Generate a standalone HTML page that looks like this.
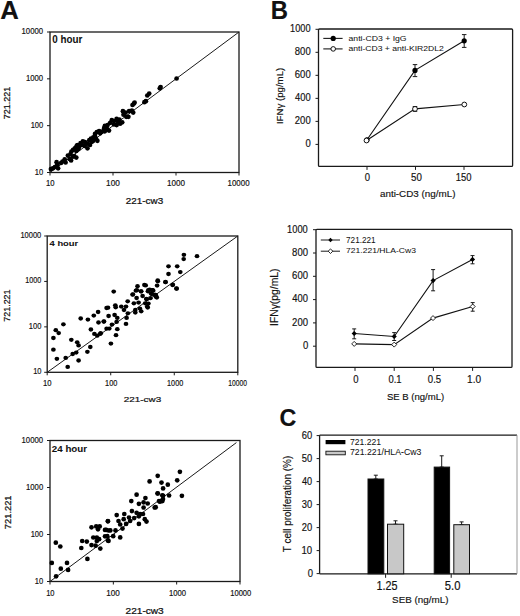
<!DOCTYPE html><html><head><meta charset="utf-8"><title>Figure</title><style>html,body{margin:0;padding:0;background:#fff;}svg{display:block;}text{font-family:"Liberation Sans",sans-serif;fill:#111;}</style></head><body>
<svg width="520" height="616" viewBox="0 0 520 616">
<rect width="520" height="616" fill="#fff"/>
<g stroke="#111" stroke-width="0.16">
<text x="0" y="0" font-size="24" font-weight="bold" stroke-width="0.15" transform="translate(0.35,18.50) scale(1.0719,1.0515) rotate(0)">A</text>
<text x="0" y="0" font-size="24" font-weight="bold" stroke-width="0.15" transform="translate(270.71,18.60) scale(0.9932,1.0545) rotate(0)">B</text>
<text x="0" y="0" font-size="24" font-weight="bold" stroke-width="0.15" transform="translate(279.48,425.75) scale(0.9710,1.0118) rotate(0)">C</text>
<text x="0" y="0" font-size="8" font-weight="normal" transform="translate(34.82,174.55) scale(0.9500,1.0273) rotate(0)">10</text>
<text x="0" y="0" font-size="8" font-weight="normal" transform="translate(30.63,127.72) scale(0.9440,1.0273) rotate(0)">100</text>
<text x="0" y="0" font-size="8" font-weight="normal" transform="translate(25.91,80.88) scale(0.9706,1.0273) rotate(0)">1000</text>
<text x="0" y="0" font-size="8" font-weight="normal" transform="translate(21.51,34.05) scale(0.9721,1.0273) rotate(0)">10000</text>
<text x="0" y="0" font-size="8" font-weight="normal" transform="translate(46.02,186.35) scale(0.9625,1.1182) rotate(0)">10</text>
<text x="0" y="0" font-size="8" font-weight="normal" transform="translate(106.08,186.35) scale(1.0320,1.1182) rotate(0)">100</text>
<text x="0" y="0" font-size="8" font-weight="normal" transform="translate(167.09,186.35) scale(1.0118,1.1182) rotate(0)">1000</text>
<text x="0" y="0" font-size="8" font-weight="normal" transform="translate(227.61,186.35) scale(0.9860,1.1182) rotate(0)">10000</text>
<text x="0" y="0" font-size="10" font-weight="bold" stroke-width="0.05" transform="translate(52.21,43.30) scale(0.9833,1.0286) rotate(0)">0 hour</text>
<text x="0" y="0" font-size="10" font-weight="normal" stroke-width="0.26" transform="translate(125.81,204.10) scale(0.9892,0.9000) rotate(0)">221-cw3</text>
<text x="0" y="0" font-size="10" font-weight="normal" stroke-width="0.26" transform="translate(10.30,119.35) scale(0.9429,0.9021) rotate(-90)">721.221</text>
<text x="0" y="0" font-size="8" font-weight="normal" transform="translate(33.13,374.35) scale(0.9375,1.0273) rotate(0)">10</text>
<text x="0" y="0" font-size="8" font-weight="normal" transform="translate(28.83,328.92) scale(0.9440,1.0273) rotate(0)">100</text>
<text x="0" y="0" font-size="8" font-weight="normal" transform="translate(25.35,283.48) scale(0.9000,1.0273) rotate(0)">1000</text>
<text x="0" y="0" font-size="8" font-weight="normal" transform="translate(20.43,238.05) scale(0.9395,1.0273) rotate(0)">10000</text>
<text x="0" y="0" font-size="8" font-weight="normal" transform="translate(42.92,386.35) scale(0.9625,1.1182) rotate(0)">10</text>
<text x="0" y="0" font-size="8" font-weight="normal" transform="translate(105.04,386.35) scale(0.9200,1.1182) rotate(0)">100</text>
<text x="0" y="0" font-size="8" font-weight="normal" transform="translate(167.10,386.35) scale(0.9059,1.1182) rotate(0)">1000</text>
<text x="0" y="0" font-size="8" font-weight="normal" transform="translate(228.28,386.35) scale(0.8419,1.1182) rotate(0)">10000</text>
<text x="0" y="0" font-size="10" font-weight="bold" stroke-width="0.05" transform="translate(49.57,245.50) scale(0.9388,0.7571) rotate(0)">4 hour</text>
<text x="0" y="0" font-size="10" font-weight="normal" stroke-width="0.26" transform="translate(123.81,402.30) scale(0.9892,0.8000) rotate(0)">221-cw3</text>
<text x="0" y="0" font-size="10" font-weight="normal" stroke-width="0.26" transform="translate(10.30,321.65) scale(0.8429,0.8908) rotate(-90)">721.221</text>
<text x="0" y="0" font-size="8" font-weight="normal" transform="translate(34.82,583.55) scale(0.9500,1.0273) rotate(0)">10</text>
<text x="0" y="0" font-size="8" font-weight="normal" transform="translate(30.63,536.55) scale(0.9440,1.0273) rotate(0)">100</text>
<text x="0" y="0" font-size="8" font-weight="normal" transform="translate(26.02,489.55) scale(0.9647,1.0273) rotate(0)">1000</text>
<text x="0" y="0" font-size="8" font-weight="normal" transform="translate(21.51,442.55) scale(0.9721,1.0273) rotate(0)">10000</text>
<text x="0" y="0" font-size="8" font-weight="normal" transform="translate(46.13,595.65) scale(0.9375,1.1182) rotate(0)">10</text>
<text x="0" y="0" font-size="8" font-weight="normal" transform="translate(106.29,595.65) scale(1.0160,1.1182) rotate(0)">100</text>
<text x="0" y="0" font-size="8" font-weight="normal" transform="translate(168.92,595.65) scale(0.9588,1.1182) rotate(0)">1000</text>
<text x="0" y="0" font-size="8" font-weight="normal" transform="translate(230.23,595.65) scale(0.9488,1.1182) rotate(0)">10000</text>
<text x="0" y="0" font-size="10" font-weight="bold" stroke-width="0.05" transform="translate(51.86,452.40) scale(0.9762,0.9429) rotate(0)">24 hour</text>
<text x="0" y="0" font-size="10" font-weight="normal" stroke-width="0.26" transform="translate(125.54,613.60) scale(1.0122,0.9143) rotate(0)">221-cw3</text>
<text x="0" y="0" font-size="10" font-weight="normal" stroke-width="0.26" transform="translate(10.50,529.17) scale(0.9571,0.9333) rotate(-90)">721.221</text>
<text x="0" y="0" font-size="10" font-weight="normal" transform="translate(305.57,147.45) scale(0.9500,1.0143) rotate(0)">0</text>
<text x="0" y="0" font-size="10" font-weight="normal" transform="translate(294.82,124.43) scale(0.9524,1.0143) rotate(0)">200</text>
<text x="0" y="0" font-size="10" font-weight="normal" transform="translate(295.07,101.41) scale(0.9375,1.0143) rotate(0)">400</text>
<text x="0" y="0" font-size="10" font-weight="normal" transform="translate(294.82,78.39) scale(0.9524,1.0143) rotate(0)">600</text>
<text x="0" y="0" font-size="10" font-weight="normal" transform="translate(294.82,55.37) scale(0.9524,1.0143) rotate(0)">800</text>
<text x="0" y="0" font-size="10" font-weight="normal" transform="translate(290.01,32.35) scale(0.9224,1.0143) rotate(0)">1000</text>
<text x="0" y="0" font-size="10" font-weight="normal" transform="translate(364.67,181.45) scale(0.9500,1.0929) rotate(0)">0</text>
<text x="0" y="0" font-size="10" font-weight="normal" transform="translate(411.01,181.45) scale(0.9756,1.0929) rotate(0)">50</text>
<text x="0" y="0" font-size="10" font-weight="normal" transform="translate(455.84,181.45) scale(0.9452,1.0929) rotate(0)">150</text>
<text x="0" y="0" font-size="10" font-weight="normal" transform="translate(379.96,197.10) scale(0.9861,0.8571) rotate(0)">anti-CD3 (ng/mL)</text>
<text x="0" y="0" font-size="10" font-weight="normal" transform="translate(282.60,124.07) scale(0.9857,0.9656) rotate(-90)">IFNγ (pg/mL)</text>
<text x="0" y="0" font-size="8.5" font-weight="normal" stroke-width="0.04" transform="translate(348.54,41.10) scale(1.0205,0.8833) rotate(0)">anti-CD3 + IgG</text>
<text x="0" y="0" font-size="8.5" font-weight="normal" stroke-width="0.04" transform="translate(348.55,51.45) scale(1.0139,0.9000) rotate(0)">anti-CD3 + anti-KIR2DL2</text>
<text x="0" y="0" font-size="10" font-weight="normal" transform="translate(302.97,349.00) scale(0.9500,1.0286) rotate(0)">0</text>
<text x="0" y="0" font-size="10" font-weight="normal" transform="translate(292.12,325.70) scale(0.9524,1.0286) rotate(0)">200</text>
<text x="0" y="0" font-size="10" font-weight="normal" transform="translate(292.37,302.40) scale(0.9375,1.0286) rotate(0)">400</text>
<text x="0" y="0" font-size="10" font-weight="normal" transform="translate(292.12,279.10) scale(0.9524,1.0286) rotate(0)">600</text>
<text x="0" y="0" font-size="10" font-weight="normal" transform="translate(292.12,255.80) scale(0.9524,1.0286) rotate(0)">800</text>
<text x="0" y="0" font-size="10" font-weight="normal" transform="translate(287.10,232.50) scale(0.9318,1.0286) rotate(0)">1000</text>
<text x="0" y="0" font-size="10" font-weight="normal" transform="translate(353.17,382.50) scale(0.9500,1.0000) rotate(0)">0</text>
<text x="0" y="0" font-size="10" font-weight="normal" transform="translate(388.43,382.50) scale(0.9462,1.0000) rotate(0)">0.1</text>
<text x="0" y="0" font-size="10" font-weight="normal" transform="translate(427.82,382.50) scale(0.9615,1.0000) rotate(0)">0.5</text>
<text x="0" y="0" font-size="10" font-weight="normal" transform="translate(467.04,382.50) scale(1.0118,1.0000) rotate(0)">1.0</text>
<text x="0" y="0" font-size="10" font-weight="normal" transform="translate(386.92,400.00) scale(0.9559,0.9571) rotate(0)">SE B (ng/mL)</text>
<text x="0" y="0" font-size="10" font-weight="normal" transform="translate(278.10,325.93) scale(1.0000,1.0333) rotate(-90)">IFNγ(pg/mL)</text>
<text x="0" y="0" font-size="8.5" font-weight="normal" stroke-width="0.04" transform="translate(346.02,243.30) scale(0.9647,0.9833) rotate(0)">721.221</text>
<text x="0" y="0" font-size="8.5" font-weight="normal" stroke-width="0.04" transform="translate(346.00,252.90) scale(1.0073,0.9167) rotate(0)">721.221/HLA-Cw3</text>
<text x="0" y="0" font-size="10" font-weight="normal" transform="translate(307.72,576.90) scale(0.9500,1.0000) rotate(0)">0</text>
<text x="0" y="0" font-size="10" font-weight="normal" transform="translate(301.48,553.90) scale(0.9600,1.0000) rotate(0)">10</text>
<text x="0" y="0" font-size="10" font-weight="normal" transform="translate(301.73,530.90) scale(0.9366,1.0000) rotate(0)">20</text>
<text x="0" y="0" font-size="10" font-weight="normal" transform="translate(301.73,507.90) scale(0.9366,1.0000) rotate(0)">30</text>
<text x="0" y="0" font-size="10" font-weight="normal" transform="translate(301.97,484.90) scale(0.9143,1.0000) rotate(0)">40</text>
<text x="0" y="0" font-size="10" font-weight="normal" transform="translate(301.73,461.90) scale(0.9366,1.0000) rotate(0)">50</text>
<text x="0" y="0" font-size="10" font-weight="normal" transform="translate(301.73,438.90) scale(0.9366,1.0000) rotate(0)">60</text>
<text x="0" y="0" font-size="11" font-weight="normal" transform="translate(376.46,590.20) scale(0.9827,1.0800) rotate(0)">1.25</text>
<text x="0" y="0" font-size="11" font-weight="normal" transform="translate(444.79,590.20) scale(1.0207,1.0800) rotate(0)">5.0</text>
<text x="0" y="0" font-size="10" font-weight="normal" transform="translate(392.11,603.40) scale(0.9849,0.8857) rotate(0)">SEB (ng/mL)</text>
<text x="0" y="0" font-size="10" font-weight="normal" transform="translate(290.60,552.15) scale(1.0571,0.9932) rotate(-90)">T cell proliferation (%)</text>
<text x="0" y="0" font-size="8.5" font-weight="normal" stroke-width="0.04" transform="translate(349.99,444.50) scale(1.0151,1.0000) rotate(0)">721.221</text>
<text x="0" y="0" font-size="8.5" font-weight="normal" stroke-width="0.04" transform="translate(349.99,455.20) scale(1.0277,1.0500) rotate(0)">721.221/HLA-Cw3</text>
</g>
<rect x="50" y="32" width="189" height="140.5" fill="none" stroke="#1a1a1a" stroke-width="1.3"/>
<line x1="50.00" y1="172.50" x2="239.00" y2="32.00" stroke="#1a1a1a" stroke-width="1.0"/>
<line x1="47.00" y1="172.50" x2="50.00" y2="172.50" stroke="#1a1a1a" stroke-width="1.0"/>
<line x1="50.00" y1="172.50" x2="50.00" y2="175.50" stroke="#1a1a1a" stroke-width="1.0"/>
<line x1="47.00" y1="125.67" x2="50.00" y2="125.67" stroke="#1a1a1a" stroke-width="1.0"/>
<line x1="113.00" y1="172.50" x2="113.00" y2="175.50" stroke="#1a1a1a" stroke-width="1.0"/>
<line x1="47.00" y1="78.83" x2="50.00" y2="78.83" stroke="#1a1a1a" stroke-width="1.0"/>
<line x1="176.00" y1="172.50" x2="176.00" y2="175.50" stroke="#1a1a1a" stroke-width="1.0"/>
<line x1="47.00" y1="32.00" x2="50.00" y2="32.00" stroke="#1a1a1a" stroke-width="1.0"/>
<line x1="239.00" y1="172.50" x2="239.00" y2="175.50" stroke="#1a1a1a" stroke-width="1.0"/>
<g fill="#000">
<ellipse cx="50.9" cy="169.1" rx="2.35" ry="2.35"/>
<ellipse cx="52.9" cy="168.3" rx="2.35" ry="2.35"/>
<ellipse cx="54.9" cy="167.1" rx="2.35" ry="2.35"/>
<ellipse cx="56.6" cy="162.2" rx="2.35" ry="2.35"/>
<ellipse cx="57.2" cy="164.8" rx="2.35" ry="2.35"/>
<ellipse cx="58.1" cy="168.3" rx="2.35" ry="2.35"/>
<ellipse cx="64.7" cy="159.3" rx="2.35" ry="2.35"/>
<ellipse cx="65.6" cy="162.5" rx="2.35" ry="2.35"/>
<ellipse cx="67.9" cy="155.6" rx="2.35" ry="2.35"/>
<ellipse cx="70.5" cy="154.1" rx="2.35" ry="2.35"/>
<ellipse cx="69.6" cy="159.0" rx="2.35" ry="2.35"/>
<ellipse cx="71.1" cy="160.5" rx="2.35" ry="2.35"/>
<ellipse cx="72.8" cy="156.7" rx="2.35" ry="2.35"/>
<ellipse cx="74.2" cy="156.2" rx="2.35" ry="2.35"/>
<ellipse cx="76.3" cy="157.6" rx="2.35" ry="2.35"/>
<ellipse cx="71.4" cy="151.5" rx="2.35" ry="2.35"/>
<ellipse cx="73.1" cy="149.8" rx="2.35" ry="2.35"/>
<ellipse cx="74.8" cy="148.4" rx="2.35" ry="2.35"/>
<ellipse cx="76.5" cy="146.3" rx="2.35" ry="2.35"/>
<ellipse cx="77.7" cy="145.2" rx="2.35" ry="2.35"/>
<ellipse cx="76.3" cy="151.0" rx="2.35" ry="2.35"/>
<ellipse cx="78.3" cy="149.2" rx="2.35" ry="2.35"/>
<ellipse cx="79.1" cy="146.9" rx="2.35" ry="2.35"/>
<ellipse cx="61.0" cy="163.0" rx="2.35" ry="2.35"/>
<ellipse cx="62.5" cy="161.5" rx="2.35" ry="2.35"/>
<ellipse cx="77.2" cy="145.4" rx="2.35" ry="2.35"/>
<ellipse cx="80.6" cy="143.1" rx="2.35" ry="2.35"/>
<ellipse cx="82.9" cy="141.4" rx="2.35" ry="2.35"/>
<ellipse cx="84.7" cy="146.0" rx="2.35" ry="2.35"/>
<ellipse cx="87.5" cy="143.7" rx="2.35" ry="2.35"/>
<ellipse cx="89.3" cy="140.2" rx="2.35" ry="2.35"/>
<ellipse cx="87.5" cy="148.3" rx="2.35" ry="2.35"/>
<ellipse cx="91.0" cy="138.5" rx="2.35" ry="2.35"/>
<ellipse cx="91.6" cy="142.0" rx="2.35" ry="2.35"/>
<ellipse cx="93.3" cy="137.4" rx="2.35" ry="2.35"/>
<ellipse cx="95.0" cy="133.9" rx="2.35" ry="2.35"/>
<ellipse cx="96.8" cy="132.2" rx="2.35" ry="2.35"/>
<ellipse cx="99.1" cy="131.0" rx="2.35" ry="2.35"/>
<ellipse cx="100.2" cy="133.3" rx="2.35" ry="2.35"/>
<ellipse cx="97.4" cy="140.8" rx="2.35" ry="2.35"/>
<ellipse cx="96.2" cy="139.1" rx="2.35" ry="2.35"/>
<ellipse cx="95.0" cy="136.2" rx="2.35" ry="2.35"/>
<ellipse cx="103.7" cy="129.8" rx="2.35" ry="2.35"/>
<ellipse cx="104.9" cy="125.8" rx="2.35" ry="2.35"/>
<ellipse cx="104.3" cy="131.0" rx="2.35" ry="2.35"/>
<ellipse cx="82.0" cy="145.0" rx="2.35" ry="2.35"/>
<ellipse cx="85.0" cy="142.0" rx="2.35" ry="2.35"/>
<ellipse cx="90.0" cy="145.0" rx="2.35" ry="2.35"/>
<ellipse cx="93.0" cy="141.0" rx="2.35" ry="2.35"/>
<ellipse cx="101.4" cy="132.0" rx="2.35" ry="2.35"/>
<ellipse cx="104.2" cy="127.9" rx="2.35" ry="2.35"/>
<ellipse cx="104.8" cy="131.3" rx="2.35" ry="2.35"/>
<ellipse cx="107.6" cy="125.1" rx="2.35" ry="2.35"/>
<ellipse cx="109.0" cy="130.6" rx="2.35" ry="2.35"/>
<ellipse cx="106.9" cy="128.5" rx="2.35" ry="2.35"/>
<ellipse cx="111.8" cy="120.2" rx="2.35" ry="2.35"/>
<ellipse cx="113.9" cy="124.4" rx="2.35" ry="2.35"/>
<ellipse cx="116.6" cy="118.9" rx="2.35" ry="2.35"/>
<ellipse cx="116.6" cy="125.1" rx="2.35" ry="2.35"/>
<ellipse cx="119.4" cy="119.5" rx="2.35" ry="2.35"/>
<ellipse cx="120.1" cy="123.7" rx="2.35" ry="2.35"/>
<ellipse cx="122.2" cy="122.3" rx="2.35" ry="2.35"/>
<ellipse cx="122.9" cy="111.2" rx="2.35" ry="2.35"/>
<ellipse cx="123.5" cy="114.7" rx="2.35" ry="2.35"/>
<ellipse cx="125.6" cy="112.6" rx="2.35" ry="2.35"/>
<ellipse cx="126.3" cy="116.8" rx="2.35" ry="2.35"/>
<ellipse cx="128.4" cy="116.8" rx="2.35" ry="2.35"/>
<ellipse cx="129.1" cy="111.2" rx="2.35" ry="2.35"/>
<ellipse cx="131.9" cy="110.5" rx="2.35" ry="2.35"/>
<ellipse cx="133.2" cy="112.6" rx="2.35" ry="2.35"/>
<ellipse cx="133.9" cy="103.6" rx="2.35" ry="2.35"/>
<ellipse cx="134.6" cy="102.6" rx="2.35" ry="2.35"/>
<ellipse cx="132.5" cy="105.0" rx="2.35" ry="2.35"/>
<ellipse cx="110.0" cy="123.0" rx="2.35" ry="2.35"/>
<ellipse cx="114.0" cy="121.0" rx="2.35" ry="2.35"/>
<ellipse cx="118.0" cy="121.5" rx="2.35" ry="2.35"/>
<ellipse cx="144.4" cy="102.2" rx="2.35" ry="2.35"/>
<ellipse cx="145.9" cy="101.2" rx="2.35" ry="2.35"/>
<ellipse cx="147.3" cy="95.5" rx="2.35" ry="2.35"/>
<ellipse cx="149.2" cy="93.6" rx="2.35" ry="2.35"/>
<ellipse cx="159.8" cy="88.3" rx="2.35" ry="2.35"/>
<ellipse cx="160.6" cy="87.1" rx="2.35" ry="2.35"/>
<ellipse cx="176.6" cy="78.5" rx="2.35" ry="2.35"/>
</g>
<rect x="47.2" y="236" width="190.60000000000002" height="136.3" fill="none" stroke="#1a1a1a" stroke-width="1.3"/>
<line x1="47.20" y1="372.30" x2="237.80" y2="236.00" stroke="#1a1a1a" stroke-width="1.0"/>
<line x1="44.20" y1="372.30" x2="47.20" y2="372.30" stroke="#1a1a1a" stroke-width="1.0"/>
<line x1="47.20" y1="372.30" x2="47.20" y2="375.30" stroke="#1a1a1a" stroke-width="1.0"/>
<line x1="44.20" y1="326.87" x2="47.20" y2="326.87" stroke="#1a1a1a" stroke-width="1.0"/>
<line x1="110.73" y1="372.30" x2="110.73" y2="375.30" stroke="#1a1a1a" stroke-width="1.0"/>
<line x1="44.20" y1="281.43" x2="47.20" y2="281.43" stroke="#1a1a1a" stroke-width="1.0"/>
<line x1="174.27" y1="372.30" x2="174.27" y2="375.30" stroke="#1a1a1a" stroke-width="1.0"/>
<line x1="44.20" y1="236.00" x2="47.20" y2="236.00" stroke="#1a1a1a" stroke-width="1.0"/>
<line x1="237.80" y1="372.30" x2="237.80" y2="375.30" stroke="#1a1a1a" stroke-width="1.0"/>
<g fill="#000">
<ellipse cx="63.4" cy="324.3" rx="2.35" ry="2.15"/>
<ellipse cx="55.8" cy="330.2" rx="2.35" ry="2.15"/>
<ellipse cx="58.7" cy="333.1" rx="2.35" ry="2.15"/>
<ellipse cx="53.4" cy="338.0" rx="2.35" ry="2.15"/>
<ellipse cx="53.4" cy="349.7" rx="2.35" ry="2.15"/>
<ellipse cx="56.9" cy="358.8" rx="2.35" ry="2.15"/>
<ellipse cx="65.7" cy="357.9" rx="2.35" ry="2.15"/>
<ellipse cx="67.7" cy="366.9" rx="2.35" ry="2.15"/>
<ellipse cx="71.3" cy="339.8" rx="2.35" ry="2.15"/>
<ellipse cx="77.2" cy="342.3" rx="2.35" ry="2.15"/>
<ellipse cx="78.6" cy="345.4" rx="2.35" ry="2.15"/>
<ellipse cx="72.7" cy="354.0" rx="2.35" ry="2.15"/>
<ellipse cx="76.2" cy="352.6" rx="2.35" ry="2.15"/>
<ellipse cx="78.6" cy="360.5" rx="2.35" ry="2.15"/>
<ellipse cx="80.7" cy="318.5" rx="2.35" ry="2.15"/>
<ellipse cx="87.9" cy="319.6" rx="2.35" ry="2.15"/>
<ellipse cx="93.8" cy="315.6" rx="2.35" ry="2.15"/>
<ellipse cx="98.1" cy="312.0" rx="2.35" ry="2.15"/>
<ellipse cx="98.5" cy="322.5" rx="2.35" ry="2.15"/>
<ellipse cx="103.7" cy="321.6" rx="2.35" ry="2.15"/>
<ellipse cx="90.9" cy="329.5" rx="2.35" ry="2.15"/>
<ellipse cx="94.4" cy="333.9" rx="2.35" ry="2.15"/>
<ellipse cx="97.3" cy="335.7" rx="2.35" ry="2.15"/>
<ellipse cx="100.2" cy="333.9" rx="2.35" ry="2.15"/>
<ellipse cx="90.3" cy="347.0" rx="2.35" ry="2.15"/>
<ellipse cx="87.4" cy="351.8" rx="2.35" ry="2.15"/>
<ellipse cx="106.6" cy="308.0" rx="2.35" ry="2.15"/>
<ellipse cx="106.6" cy="328.7" rx="2.35" ry="2.15"/>
<ellipse cx="113.7" cy="291.6" rx="2.35" ry="2.15"/>
<ellipse cx="108.0" cy="307.7" rx="2.35" ry="2.15"/>
<ellipse cx="115.3" cy="305.3" rx="2.35" ry="2.15"/>
<ellipse cx="115.7" cy="307.3" rx="2.35" ry="2.15"/>
<ellipse cx="108.6" cy="316.0" rx="2.35" ry="2.15"/>
<ellipse cx="114.6" cy="315.0" rx="2.35" ry="2.15"/>
<ellipse cx="104.0" cy="321.5" rx="2.35" ry="2.15"/>
<ellipse cx="100.7" cy="333.2" rx="2.35" ry="2.15"/>
<ellipse cx="109.3" cy="328.6" rx="2.35" ry="2.15"/>
<ellipse cx="112.0" cy="324.6" rx="2.35" ry="2.15"/>
<ellipse cx="117.3" cy="317.9" rx="2.35" ry="2.15"/>
<ellipse cx="116.6" cy="321.9" rx="2.35" ry="2.15"/>
<ellipse cx="117.3" cy="329.2" rx="2.35" ry="2.15"/>
<ellipse cx="116.0" cy="335.2" rx="2.35" ry="2.15"/>
<ellipse cx="110.9" cy="343.6" rx="2.35" ry="2.15"/>
<ellipse cx="121.3" cy="306.6" rx="2.35" ry="2.15"/>
<ellipse cx="124.0" cy="310.0" rx="2.35" ry="2.15"/>
<ellipse cx="126.0" cy="306.6" rx="2.35" ry="2.15"/>
<ellipse cx="127.7" cy="301.3" rx="2.35" ry="2.15"/>
<ellipse cx="127.9" cy="313.3" rx="2.35" ry="2.15"/>
<ellipse cx="126.6" cy="317.9" rx="2.35" ry="2.15"/>
<ellipse cx="126.0" cy="323.9" rx="2.35" ry="2.15"/>
<ellipse cx="132.6" cy="294.7" rx="2.35" ry="2.15"/>
<ellipse cx="133.9" cy="303.3" rx="2.35" ry="2.15"/>
<ellipse cx="135.3" cy="310.0" rx="2.35" ry="2.15"/>
<ellipse cx="135.3" cy="312.6" rx="2.35" ry="2.15"/>
<ellipse cx="136.6" cy="298.0" rx="2.35" ry="2.15"/>
<ellipse cx="138.6" cy="302.6" rx="2.35" ry="2.15"/>
<ellipse cx="139.9" cy="308.6" rx="2.35" ry="2.15"/>
<ellipse cx="141.2" cy="311.3" rx="2.35" ry="2.15"/>
<ellipse cx="142.6" cy="296.0" rx="2.35" ry="2.15"/>
<ellipse cx="145.2" cy="303.3" rx="2.35" ry="2.15"/>
<ellipse cx="146.6" cy="299.3" rx="2.35" ry="2.15"/>
<ellipse cx="147.2" cy="306.6" rx="2.35" ry="2.15"/>
<ellipse cx="135.9" cy="290.7" rx="2.35" ry="2.15"/>
<ellipse cx="141.2" cy="291.3" rx="2.35" ry="2.15"/>
<ellipse cx="147.9" cy="291.3" rx="2.35" ry="2.15"/>
<ellipse cx="151.9" cy="294.0" rx="2.35" ry="2.15"/>
<ellipse cx="155.9" cy="296.7" rx="2.35" ry="2.15"/>
<ellipse cx="153.2" cy="290.7" rx="2.35" ry="2.15"/>
<ellipse cx="137.5" cy="286.2" rx="2.35" ry="2.15"/>
<ellipse cx="144.4" cy="285.0" rx="2.35" ry="2.15"/>
<ellipse cx="157.7" cy="280.4" rx="2.35" ry="2.15"/>
<ellipse cx="157.1" cy="285.6" rx="2.35" ry="2.15"/>
<ellipse cx="132.9" cy="294.3" rx="2.35" ry="2.15"/>
<ellipse cx="136.9" cy="290.2" rx="2.35" ry="2.15"/>
<ellipse cx="141.0" cy="291.4" rx="2.35" ry="2.15"/>
<ellipse cx="149.6" cy="289.7" rx="2.35" ry="2.15"/>
<ellipse cx="152.5" cy="290.2" rx="2.35" ry="2.15"/>
<ellipse cx="155.4" cy="294.8" rx="2.35" ry="2.15"/>
<ellipse cx="183.9" cy="254.8" rx="2.35" ry="2.15"/>
<ellipse cx="183.7" cy="259.1" rx="2.35" ry="2.15"/>
<ellipse cx="197.0" cy="256.2" rx="2.35" ry="2.15"/>
<ellipse cx="168.5" cy="266.3" rx="2.35" ry="2.15"/>
<ellipse cx="177.2" cy="266.3" rx="2.35" ry="2.15"/>
<ellipse cx="180.3" cy="272.1" rx="2.35" ry="2.15"/>
<ellipse cx="168.5" cy="274.0" rx="2.35" ry="2.15"/>
<ellipse cx="165.5" cy="282.2" rx="2.35" ry="2.15"/>
<ellipse cx="172.8" cy="284.7" rx="2.35" ry="2.15"/>
<ellipse cx="176.5" cy="288.5" rx="2.35" ry="2.15"/>
<ellipse cx="155.7" cy="295.2" rx="2.35" ry="2.15"/>
<ellipse cx="157.8" cy="281.3" rx="2.35" ry="2.15"/>
<ellipse cx="165.5" cy="282.0" rx="2.35" ry="2.15"/>
<ellipse cx="172.6" cy="285.1" rx="2.35" ry="2.15"/>
<ellipse cx="176.6" cy="288.7" rx="2.35" ry="2.15"/>
<ellipse cx="145.7" cy="285.4" rx="2.35" ry="2.15"/>
<ellipse cx="148.4" cy="290.1" rx="2.35" ry="2.15"/>
<ellipse cx="152.4" cy="290.1" rx="2.35" ry="2.15"/>
<ellipse cx="151.0" cy="293.5" rx="2.35" ry="2.15"/>
<ellipse cx="155.1" cy="294.8" rx="2.35" ry="2.15"/>
<ellipse cx="156.8" cy="297.5" rx="2.35" ry="2.15"/>
<ellipse cx="150.4" cy="298.2" rx="2.35" ry="2.15"/>
<ellipse cx="146.3" cy="298.8" rx="2.35" ry="2.15"/>
<ellipse cx="148.4" cy="303.6" rx="2.35" ry="2.15"/>
<ellipse cx="147.7" cy="307.6" rx="2.35" ry="2.15"/>
</g>
<rect x="50" y="440.5" width="190" height="141.0" fill="none" stroke="#1a1a1a" stroke-width="1.3"/>
<line x1="50.00" y1="581.50" x2="236.40" y2="442.60" stroke="#1a1a1a" stroke-width="1.0"/>
<line x1="47.00" y1="581.50" x2="50.00" y2="581.50" stroke="#1a1a1a" stroke-width="1.0"/>
<line x1="50.00" y1="581.50" x2="50.00" y2="584.50" stroke="#1a1a1a" stroke-width="1.0"/>
<line x1="47.00" y1="534.50" x2="50.00" y2="534.50" stroke="#1a1a1a" stroke-width="1.0"/>
<line x1="113.33" y1="581.50" x2="113.33" y2="584.50" stroke="#1a1a1a" stroke-width="1.0"/>
<line x1="47.00" y1="487.50" x2="50.00" y2="487.50" stroke="#1a1a1a" stroke-width="1.0"/>
<line x1="176.67" y1="581.50" x2="176.67" y2="584.50" stroke="#1a1a1a" stroke-width="1.0"/>
<line x1="47.00" y1="440.50" x2="50.00" y2="440.50" stroke="#1a1a1a" stroke-width="1.0"/>
<line x1="240.00" y1="581.50" x2="240.00" y2="584.50" stroke="#1a1a1a" stroke-width="1.0"/>
<g fill="#000">
<ellipse cx="55.8" cy="542.7" rx="2.35" ry="2.35"/>
<ellipse cx="60.3" cy="546.5" rx="2.35" ry="2.35"/>
<ellipse cx="51.8" cy="562.9" rx="2.35" ry="2.35"/>
<ellipse cx="67.0" cy="562.9" rx="2.35" ry="2.35"/>
<ellipse cx="60.8" cy="568.7" rx="2.35" ry="2.35"/>
<ellipse cx="68.1" cy="569.9" rx="2.35" ry="2.35"/>
<ellipse cx="56.1" cy="576.3" rx="2.35" ry="2.35"/>
<ellipse cx="82.2" cy="541.0" rx="2.35" ry="2.35"/>
<ellipse cx="86.8" cy="541.6" rx="2.35" ry="2.35"/>
<ellipse cx="81.3" cy="548.0" rx="2.35" ry="2.35"/>
<ellipse cx="87.4" cy="558.9" rx="2.35" ry="2.35"/>
<ellipse cx="91.5" cy="527.3" rx="2.35" ry="2.35"/>
<ellipse cx="96.2" cy="526.4" rx="2.35" ry="2.35"/>
<ellipse cx="99.7" cy="526.4" rx="2.35" ry="2.35"/>
<ellipse cx="98.0" cy="529.3" rx="2.35" ry="2.35"/>
<ellipse cx="93.3" cy="537.5" rx="2.35" ry="2.35"/>
<ellipse cx="96.8" cy="537.5" rx="2.35" ry="2.35"/>
<ellipse cx="99.1" cy="539.2" rx="2.35" ry="2.35"/>
<ellipse cx="96.8" cy="541.0" rx="2.35" ry="2.35"/>
<ellipse cx="91.5" cy="545.1" rx="2.35" ry="2.35"/>
<ellipse cx="95.6" cy="545.7" rx="2.35" ry="2.35"/>
<ellipse cx="100.3" cy="548.6" rx="2.35" ry="2.35"/>
<ellipse cx="107.9" cy="521.1" rx="2.35" ry="2.35"/>
<ellipse cx="105.0" cy="529.9" rx="2.35" ry="2.35"/>
<ellipse cx="108.5" cy="530.5" rx="2.35" ry="2.35"/>
<ellipse cx="105.0" cy="536.3" rx="2.35" ry="2.35"/>
<ellipse cx="107.9" cy="540.4" rx="2.35" ry="2.35"/>
<ellipse cx="136.6" cy="494.7" rx="2.35" ry="2.35"/>
<ellipse cx="131.3" cy="501.1" rx="2.35" ry="2.35"/>
<ellipse cx="138.9" cy="503.8" rx="2.35" ry="2.35"/>
<ellipse cx="145.4" cy="498.0" rx="2.35" ry="2.35"/>
<ellipse cx="143.6" cy="502.3" rx="2.35" ry="2.35"/>
<ellipse cx="147.7" cy="503.5" rx="2.35" ry="2.35"/>
<ellipse cx="143.6" cy="507.5" rx="2.35" ry="2.35"/>
<ellipse cx="157.6" cy="493.5" rx="2.35" ry="2.35"/>
<ellipse cx="162.3" cy="495.3" rx="2.35" ry="2.35"/>
<ellipse cx="160.0" cy="501.7" rx="2.35" ry="2.35"/>
<ellipse cx="154.7" cy="507.5" rx="2.35" ry="2.35"/>
<ellipse cx="116.7" cy="515.1" rx="2.35" ry="2.35"/>
<ellipse cx="124.3" cy="514.0" rx="2.35" ry="2.35"/>
<ellipse cx="131.9" cy="511.1" rx="2.35" ry="2.35"/>
<ellipse cx="136.6" cy="512.8" rx="2.35" ry="2.35"/>
<ellipse cx="140.1" cy="514.0" rx="2.35" ry="2.35"/>
<ellipse cx="143.0" cy="514.0" rx="2.35" ry="2.35"/>
<ellipse cx="138.9" cy="516.3" rx="2.35" ry="2.35"/>
<ellipse cx="134.2" cy="518.1" rx="2.35" ry="2.35"/>
<ellipse cx="129.0" cy="517.5" rx="2.35" ry="2.35"/>
<ellipse cx="123.7" cy="519.2" rx="2.35" ry="2.35"/>
<ellipse cx="118.5" cy="521.0" rx="2.35" ry="2.35"/>
<ellipse cx="130.1" cy="521.0" rx="2.35" ry="2.35"/>
<ellipse cx="126.1" cy="523.9" rx="2.35" ry="2.35"/>
<ellipse cx="120.2" cy="524.5" rx="2.35" ry="2.35"/>
<ellipse cx="144.8" cy="519.2" rx="2.35" ry="2.35"/>
<ellipse cx="146.5" cy="521.6" rx="2.35" ry="2.35"/>
<ellipse cx="138.9" cy="523.9" rx="2.35" ry="2.35"/>
<ellipse cx="107.9" cy="521.3" rx="2.35" ry="2.35"/>
<ellipse cx="122.5" cy="528.6" rx="2.35" ry="2.35"/>
<ellipse cx="106.2" cy="529.8" rx="2.35" ry="2.35"/>
<ellipse cx="110.3" cy="530.4" rx="2.35" ry="2.35"/>
<ellipse cx="115.5" cy="530.4" rx="2.35" ry="2.35"/>
<ellipse cx="113.2" cy="536.2" rx="2.35" ry="2.35"/>
<ellipse cx="120.2" cy="537.4" rx="2.35" ry="2.35"/>
<ellipse cx="107.3" cy="536.2" rx="2.35" ry="2.35"/>
<ellipse cx="108.5" cy="540.9" rx="2.35" ry="2.35"/>
<ellipse cx="179.9" cy="471.8" rx="2.35" ry="2.35"/>
<ellipse cx="157.7" cy="475.8" rx="2.35" ry="2.35"/>
<ellipse cx="177.2" cy="480.3" rx="2.35" ry="2.35"/>
<ellipse cx="161.5" cy="482.6" rx="2.35" ry="2.35"/>
<ellipse cx="167.8" cy="484.7" rx="2.35" ry="2.35"/>
<ellipse cx="163.1" cy="488.4" rx="2.35" ry="2.35"/>
<ellipse cx="157.7" cy="493.3" rx="2.35" ry="2.35"/>
<ellipse cx="163.1" cy="495.8" rx="2.35" ry="2.35"/>
<ellipse cx="169.1" cy="495.5" rx="2.35" ry="2.35"/>
<ellipse cx="181.9" cy="495.8" rx="2.35" ry="2.35"/>
<ellipse cx="159.0" cy="501.1" rx="2.35" ry="2.35"/>
<ellipse cx="162.4" cy="501.1" rx="2.35" ry="2.35"/>
<ellipse cx="155.7" cy="507.2" rx="2.35" ry="2.35"/>
<ellipse cx="149.6" cy="481.4" rx="2.35" ry="2.35"/>
<ellipse cx="163.0" cy="499.0" rx="2.35" ry="2.35"/>
</g>
<rect x="318.5" y="29" width="194.10000000000002" height="137.4" fill="none" stroke="#1a1a1a" stroke-width="1.3" rx="1"/>
<line x1="315.50" y1="144.40" x2="318.50" y2="144.40" stroke="#1a1a1a" stroke-width="1.0"/>
<line x1="315.50" y1="121.38" x2="318.50" y2="121.38" stroke="#1a1a1a" stroke-width="1.0"/>
<line x1="315.50" y1="98.36" x2="318.50" y2="98.36" stroke="#1a1a1a" stroke-width="1.0"/>
<line x1="315.50" y1="75.34" x2="318.50" y2="75.34" stroke="#1a1a1a" stroke-width="1.0"/>
<line x1="315.50" y1="52.32" x2="318.50" y2="52.32" stroke="#1a1a1a" stroke-width="1.0"/>
<line x1="315.50" y1="29.30" x2="318.50" y2="29.30" stroke="#1a1a1a" stroke-width="1.0"/>
<line x1="367.00" y1="166.40" x2="367.00" y2="169.90" stroke="#1a1a1a" stroke-width="1.0"/>
<line x1="415.50" y1="166.40" x2="415.50" y2="169.90" stroke="#1a1a1a" stroke-width="1.0"/>
<line x1="464.00" y1="166.40" x2="464.00" y2="169.90" stroke="#1a1a1a" stroke-width="1.0"/>
<polyline points="367,139.8 415,70.4 464.2,40.8" fill="none" stroke="#111" stroke-width="1.1"/>
<polyline points="366.5,140.5 415,108.9 464.3,104.5" fill="none" stroke="#111" stroke-width="1.1"/>
<line x1="415.00" y1="64.60" x2="415.00" y2="76.60" stroke="#1a1a1a" stroke-width="1.0"/>
<line x1="412.75" y1="64.60" x2="417.25" y2="64.60" stroke="#1a1a1a" stroke-width="1.0"/>
<line x1="412.75" y1="76.60" x2="417.25" y2="76.60" stroke="#1a1a1a" stroke-width="1.0"/>
<line x1="464.20" y1="34.60" x2="464.20" y2="47.40" stroke="#1a1a1a" stroke-width="1.0"/>
<line x1="461.95" y1="34.60" x2="466.45" y2="34.60" stroke="#1a1a1a" stroke-width="1.0"/>
<line x1="461.95" y1="47.40" x2="466.45" y2="47.40" stroke="#1a1a1a" stroke-width="1.0"/>
<line x1="415.00" y1="106.50" x2="415.00" y2="111.30" stroke="#1a1a1a" stroke-width="1.0"/>
<line x1="412.75" y1="106.50" x2="417.25" y2="106.50" stroke="#1a1a1a" stroke-width="1.0"/>
<line x1="412.75" y1="111.30" x2="417.25" y2="111.30" stroke="#1a1a1a" stroke-width="1.0"/>
<circle cx="367" cy="139.8" r="2.6" fill="#000"/>
<circle cx="415" cy="70.4" r="2.6" fill="#000"/>
<circle cx="464.2" cy="40.8" r="2.6" fill="#000"/>
<circle cx="366.5" cy="140.5" r="2.4" fill="#fff" stroke="#111" stroke-width="1"/>
<circle cx="415" cy="108.9" r="2.4" fill="#fff" stroke="#111" stroke-width="1"/>
<circle cx="464.3" cy="104.5" r="2.4" fill="#fff" stroke="#111" stroke-width="1"/>
<line x1="323.30" y1="38.40" x2="342.60" y2="38.40" stroke="#1a1a1a" stroke-width="1.1"/>
<circle cx="333.2" cy="38.4" r="2.6" fill="#000"/>
<line x1="323.30" y1="48.90" x2="342.60" y2="48.90" stroke="#1a1a1a" stroke-width="1.1"/>
<circle cx="333.2" cy="48.9" r="2.3" fill="#fff" stroke="#111" stroke-width="1"/>
<rect x="316" y="229.3" width="196" height="138.09999999999997" fill="none" stroke="#1a1a1a" stroke-width="1.3" rx="1"/>
<line x1="313.00" y1="346.20" x2="316.00" y2="346.20" stroke="#1a1a1a" stroke-width="1.0"/>
<line x1="313.00" y1="322.90" x2="316.00" y2="322.90" stroke="#1a1a1a" stroke-width="1.0"/>
<line x1="313.00" y1="299.60" x2="316.00" y2="299.60" stroke="#1a1a1a" stroke-width="1.0"/>
<line x1="313.00" y1="276.30" x2="316.00" y2="276.30" stroke="#1a1a1a" stroke-width="1.0"/>
<line x1="313.00" y1="253.00" x2="316.00" y2="253.00" stroke="#1a1a1a" stroke-width="1.0"/>
<line x1="313.00" y1="229.70" x2="316.00" y2="229.70" stroke="#1a1a1a" stroke-width="1.0"/>
<line x1="355.00" y1="367.40" x2="355.00" y2="370.90" stroke="#1a1a1a" stroke-width="1.0"/>
<line x1="394.20" y1="367.40" x2="394.20" y2="370.90" stroke="#1a1a1a" stroke-width="1.0"/>
<line x1="433.40" y1="367.40" x2="433.40" y2="370.90" stroke="#1a1a1a" stroke-width="1.0"/>
<line x1="472.60" y1="367.40" x2="472.60" y2="370.90" stroke="#1a1a1a" stroke-width="1.0"/>
<polyline points="354.2,333.5 394.2,336.5 433.1,280.6 472.5,259.4" fill="none" stroke="#111" stroke-width="1.1"/>
<polyline points="354.2,343.9 394.2,344.6 433,318.1 472.7,306.5" fill="none" stroke="#111" stroke-width="1.1"/>
<line x1="354.20" y1="328.90" x2="354.20" y2="338.80" stroke="#1a1a1a" stroke-width="1.0"/>
<line x1="352.20" y1="328.90" x2="356.20" y2="328.90" stroke="#1a1a1a" stroke-width="1.0"/>
<line x1="352.20" y1="338.80" x2="356.20" y2="338.80" stroke="#1a1a1a" stroke-width="1.0"/>
<line x1="394.20" y1="332.60" x2="394.20" y2="340.50" stroke="#1a1a1a" stroke-width="1.0"/>
<line x1="392.20" y1="332.60" x2="396.20" y2="332.60" stroke="#1a1a1a" stroke-width="1.0"/>
<line x1="392.20" y1="340.50" x2="396.20" y2="340.50" stroke="#1a1a1a" stroke-width="1.0"/>
<line x1="433.10" y1="269.60" x2="433.10" y2="290.80" stroke="#1a1a1a" stroke-width="1.0"/>
<line x1="431.10" y1="269.60" x2="435.10" y2="269.60" stroke="#1a1a1a" stroke-width="1.0"/>
<line x1="431.10" y1="290.80" x2="435.10" y2="290.80" stroke="#1a1a1a" stroke-width="1.0"/>
<line x1="472.50" y1="255.60" x2="472.50" y2="263.80" stroke="#1a1a1a" stroke-width="1.0"/>
<line x1="470.50" y1="255.60" x2="474.50" y2="255.60" stroke="#1a1a1a" stroke-width="1.0"/>
<line x1="470.50" y1="263.80" x2="474.50" y2="263.80" stroke="#1a1a1a" stroke-width="1.0"/>
<line x1="472.70" y1="302.60" x2="472.70" y2="311.20" stroke="#1a1a1a" stroke-width="1.0"/>
<line x1="470.70" y1="302.60" x2="474.70" y2="302.60" stroke="#1a1a1a" stroke-width="1.0"/>
<line x1="470.70" y1="311.20" x2="474.70" y2="311.20" stroke="#1a1a1a" stroke-width="1.0"/>
<path d="M354.2 330.9L356.8 333.5L354.2 336.1L351.6 333.5Z" fill="#000" stroke="none" stroke-width="0"/>
<path d="M394.2 333.9L396.8 336.5L394.2 339.1L391.6 336.5Z" fill="#000" stroke="none" stroke-width="0"/>
<path d="M433.1 278.0L435.7 280.6L433.1 283.2L430.5 280.6Z" fill="#000" stroke="none" stroke-width="0"/>
<path d="M472.5 256.8L475.1 259.4L472.5 262.0L469.9 259.4Z" fill="#000" stroke="none" stroke-width="0"/>
<path d="M354.2 341.4L356.7 343.9L354.2 346.4L351.7 343.9Z" fill="#fff" stroke="#111" stroke-width="0.9"/>
<path d="M394.2 342.1L396.7 344.6L394.2 347.1L391.7 344.6Z" fill="#fff" stroke="#111" stroke-width="0.9"/>
<path d="M433.0 315.6L435.5 318.1L433.0 320.6L430.5 318.1Z" fill="#fff" stroke="#111" stroke-width="0.9"/>
<path d="M472.7 304.0L475.2 306.5L472.7 309.0L470.2 306.5Z" fill="#fff" stroke="#111" stroke-width="0.9"/>
<line x1="320.80" y1="240.00" x2="340.00" y2="240.00" stroke="#1a1a1a" stroke-width="1.0"/>
<path d="M330.5 237.8L332.7 240.0L330.5 242.2L328.3 240.0Z" fill="#000" stroke="none" stroke-width="0"/>
<line x1="320.80" y1="251.20" x2="340.00" y2="251.20" stroke="#1a1a1a" stroke-width="1.0"/>
<path d="M330.5 248.9L332.8 251.2L330.5 253.5L328.2 251.2Z" fill="#fff" stroke="#111" stroke-width="0.9"/>
<line x1="319.6" y1="435.2" x2="517" y2="435.2" stroke="#1a1a1a" stroke-width="1.3"/>
<line x1="319.6" y1="435.2" x2="319.6" y2="573.8" stroke="#1a1a1a" stroke-width="1.3"/>
<line x1="319.6" y1="573.8" x2="517" y2="573.8" stroke="#1a1a1a" stroke-width="1.3"/>
<line x1="517" y1="435.2" x2="517" y2="573.8" stroke="#999" stroke-width="1"/>
<line x1="316.60" y1="573.60" x2="319.60" y2="573.60" stroke="#1a1a1a" stroke-width="1.0"/>
<line x1="316.60" y1="550.60" x2="319.60" y2="550.60" stroke="#1a1a1a" stroke-width="1.0"/>
<line x1="316.60" y1="527.60" x2="319.60" y2="527.60" stroke="#1a1a1a" stroke-width="1.0"/>
<line x1="316.60" y1="504.60" x2="319.60" y2="504.60" stroke="#1a1a1a" stroke-width="1.0"/>
<line x1="316.60" y1="481.60" x2="319.60" y2="481.60" stroke="#1a1a1a" stroke-width="1.0"/>
<line x1="316.60" y1="458.60" x2="319.60" y2="458.60" stroke="#1a1a1a" stroke-width="1.0"/>
<line x1="316.60" y1="435.60" x2="319.60" y2="435.60" stroke="#1a1a1a" stroke-width="1.0"/>
<line x1="385.60" y1="573.80" x2="385.60" y2="577.80" stroke="#1a1a1a" stroke-width="1.0"/>
<line x1="451.20" y1="573.80" x2="451.20" y2="577.80" stroke="#1a1a1a" stroke-width="1.0"/>
<line x1="375.80" y1="475.20" x2="375.80" y2="479.00" stroke="#1a1a1a" stroke-width="1.0"/>
<line x1="373.80" y1="475.20" x2="377.80" y2="475.20" stroke="#1a1a1a" stroke-width="1.0"/>
<line x1="373.80" y1="479.00" x2="377.80" y2="479.00" stroke="#1a1a1a" stroke-width="1.0"/>
<rect x="368" y="479" width="15.800000000000011" height="94.79999999999995" fill="#000" stroke="#111" stroke-width="1"/>
<line x1="395.50" y1="520.80" x2="395.50" y2="524.20" stroke="#1a1a1a" stroke-width="1.0"/>
<line x1="393.50" y1="520.80" x2="397.50" y2="520.80" stroke="#1a1a1a" stroke-width="1.0"/>
<line x1="393.50" y1="524.20" x2="397.50" y2="524.20" stroke="#1a1a1a" stroke-width="1.0"/>
<rect x="387.5" y="524.2" width="16.19999999999999" height="49.59999999999991" fill="#c8c8c8" stroke="#111" stroke-width="1"/>
<line x1="441.70" y1="455.80" x2="441.70" y2="467.10" stroke="#1a1a1a" stroke-width="1.0"/>
<line x1="439.70" y1="455.80" x2="443.70" y2="455.80" stroke="#1a1a1a" stroke-width="1.0"/>
<line x1="439.70" y1="467.10" x2="443.70" y2="467.10" stroke="#1a1a1a" stroke-width="1.0"/>
<rect x="434.2" y="467.1" width="15.400000000000034" height="106.69999999999993" fill="#000" stroke="#111" stroke-width="1"/>
<line x1="461.60" y1="521.90" x2="461.60" y2="524.70" stroke="#1a1a1a" stroke-width="1.0"/>
<line x1="459.60" y1="521.90" x2="463.60" y2="521.90" stroke="#1a1a1a" stroke-width="1.0"/>
<line x1="459.60" y1="524.70" x2="463.60" y2="524.70" stroke="#1a1a1a" stroke-width="1.0"/>
<rect x="453.8" y="524.7" width="15.699999999999989" height="49.09999999999991" fill="#c8c8c8" stroke="#111" stroke-width="1"/>
<rect x="325.6" y="440" width="19.8" height="4.2" fill="#000"/>
<rect x="325.9" y="451.2" width="19.4" height="3.6" fill="#c8c8c8" stroke="#111" stroke-width="0.9"/>
</svg></body></html>
